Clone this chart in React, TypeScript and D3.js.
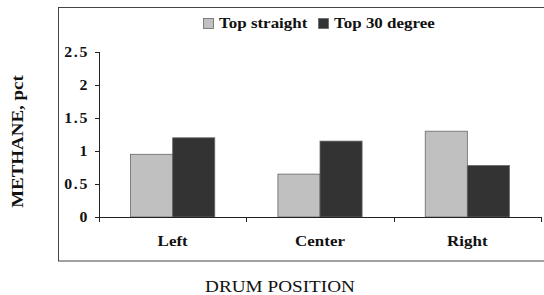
import React from 'react';
import * as d3 from 'd3';

const categories = ['Left', 'Center', 'Right'];
const seriesNames = ['Top straight', 'Top 30 degree'];
const topStraight = [0.95, 0.65, 1.3];
const top30 = [1.2, 1.15, 0.78];
const yTicks = [0, 0.5, 1, 1.5, 2, 2.5];
const colors = ['#c0c0c0', '#333333'];

const W = 544;
const H = 295;
const font = '"Liberation Serif", "Times New Roman", serif';
// the source image is a bit stretched sideways, so text is widened to match
const SX = 1.13;

type STextProps = {
  x: number;
  y: number;
  anchor?: 'start' | 'middle' | 'end';
  size: number;
  bold?: boolean;
  rotate?: number;
  spacing?: number;
  children: React.ReactNode;
};

const SText = ({ x, y, anchor = 'start', size, bold = true, rotate = 0, spacing = 0, children }: STextProps) => (
  <g transform={`translate(${x}, ${y}) rotate(${rotate}) scale(${SX}, 1)`}>
    <text
      dy="0.35em"
      textAnchor={anchor}
      fontSize={size}
      fontWeight={bold ? 'bold' : 'normal'}
      letterSpacing={spacing}
      fill="#111"
    >
      {children}
    </text>
  </g>
);

const App = () => {
  const plot = { left: 99, right: 541, top: 52, bottom: 217 };

  const x = d3.scaleBand<string>()
    .domain(categories)
    .range([plot.left, plot.right]);
  const inner = d3.scaleBand<number>()
    .domain([0, 1])
    .range([0, x.bandwidth()])
    .paddingOuter(0.75)
    .paddingInner(0);
  const y = d3.scaleLinear().domain([0, 2.5]).range([plot.bottom, plot.top]);

  const series = [topStraight, top30];

  return (
    <div style={{ position: 'fixed', left: 0, top: 0 }}>
      <svg width={W} height={H} style={{ display: 'block', background: '#fff' }} fontFamily={font}>
        {/* chart area border */}
        <rect x={58.5} y={7.5} width={490} height={253.5} fill="none" stroke="#444" strokeWidth={1} />

        {/* legend */}
        {seriesNames.map((name, i) => {
          const lx = i === 0 ? 203 : 318;
          return (
            <g key={name}>
              <rect x={lx + 0.5} y={18.5} width={10} height={10} fill={colors[i]} stroke="#666" strokeWidth={0.8} />
              <SText x={lx + 16} y={23} size={15}>{name}</SText>
            </g>
          );
        })}

        {/* bars */}
        {categories.map((c, ci) => (
          <g key={c}>
            {series.map((s, si) => (
              <rect
                key={si}
                x={(x(c) ?? 0) + (inner(si) ?? 0)}
                y={y(s[ci])}
                width={inner.bandwidth()}
                height={plot.bottom - y(s[ci])}
                fill={colors[si]}
                stroke="#666"
                strokeWidth={0.8}
              />
            ))}
          </g>
        ))}

        {/* y axis */}
        <line x1={plot.left + 0.5} x2={plot.left + 0.5} y1={plot.top} y2={plot.bottom} stroke="#222" />
        {yTicks.map(t => (
          <g key={t}>
            <line x1={plot.left - 4} x2={plot.left + 0.5} y1={Math.round(y(t)) + 0.5} y2={Math.round(y(t)) + 0.5} stroke="#222" />
            <SText x={plot.left - 10} y={y(t)} anchor="end" size={14} spacing={1.5}>
              {t}
            </SText>
          </g>
        ))}

        {/* x axis */}
        <line x1={plot.left} x2={plot.right} y1={plot.bottom + 0.5} y2={plot.bottom + 0.5} stroke="#222" />
        {[...categories.map(c => x(c) ?? 0), plot.right].map((t, i) => (
          <line key={i} x1={Math.round(t) + 0.5} x2={Math.round(t) + 0.5} y1={plot.bottom} y2={plot.bottom + 5} stroke="#222" />
        ))}
        {categories.map(c => (
          <SText key={c} x={(x(c) ?? 0) + x.bandwidth() / 2} y={241} anchor="middle" size={15}>
            {c}
          </SText>
        ))}

        {/* axis titles */}
        <SText x={280} y={286} anchor="middle" size={17} bold={false}>
          DRUM POSITION
        </SText>
        <g transform="translate(17, 141.5) rotate(-90) scale(1.15, 1)">
          <text dy="0.35em" textAnchor="middle" fontSize={16.5} fontWeight="bold" fill="#111">
            METHANE, pct
          </text>
        </g>
      </svg>
    </div>
  );
};

export default App;
